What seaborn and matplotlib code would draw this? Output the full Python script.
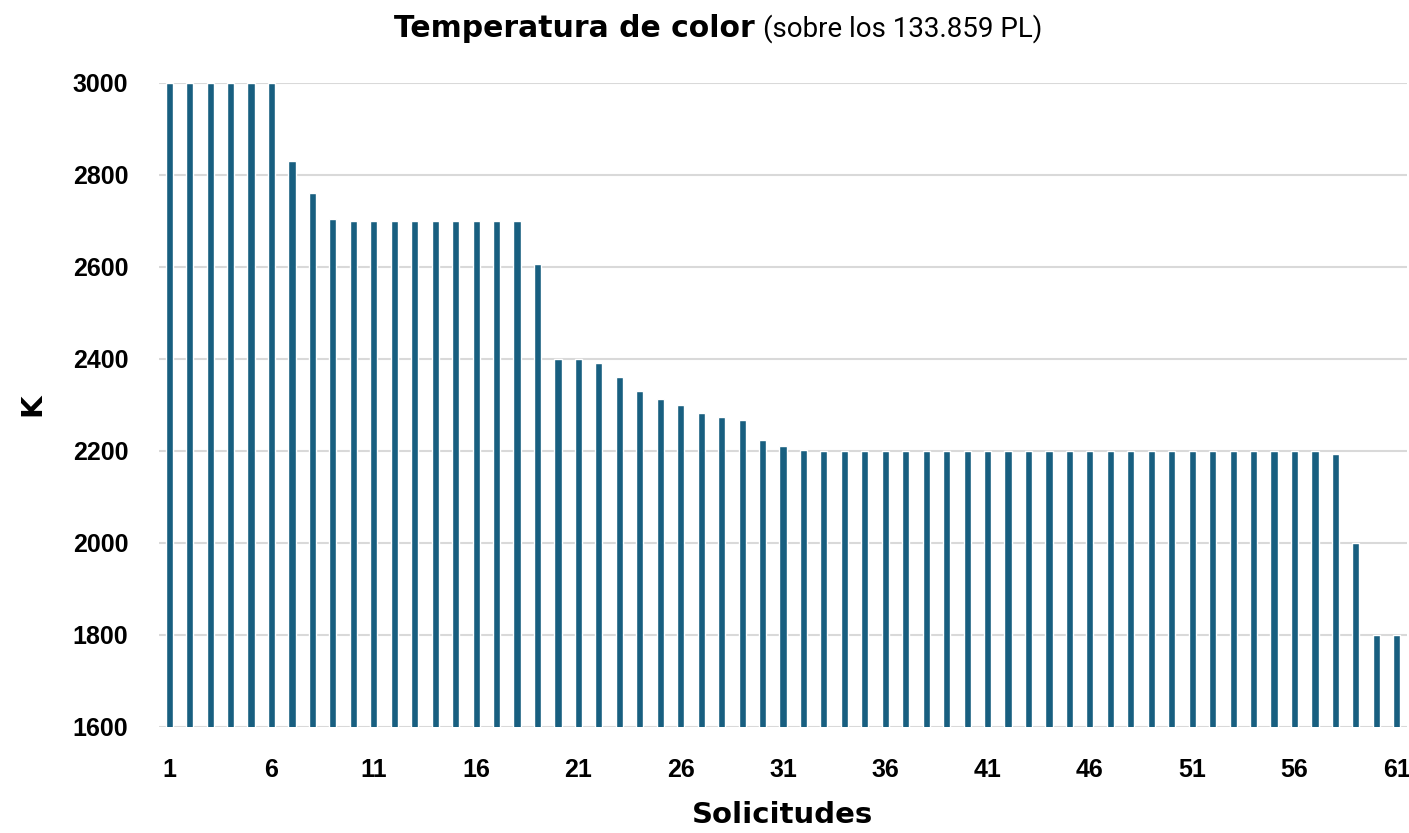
import numpy as np
import pandas as pd
import matplotlib.pyplot as plt
import seaborn as sns

sns.set_theme(style="white")
plt.rcParams["font.family"] = ["DejaVu Sans"]
plt.rcParams["text.color"] = "black"
plt.rcParams["axes.labelcolor"] = "black"
plt.rcParams["xtick.color"] = "black"
plt.rcParams["ytick.color"] = "black"

# Data (color temperature in K per request)
solicitudes = list(range(1, 62))
kelvin = [
    3000, 3000, 3000, 3000, 3000, 3000, 2830, 2760, 2705, 2700,
    2700, 2700, 2700, 2700, 2700, 2700, 2700, 2700, 2607, 2400,
    2400, 2392, 2361, 2331, 2314, 2300, 2282, 2273, 2267, 2225,
    2210, 2203, 2200, 2200, 2200, 2200, 2200, 2200, 2200, 2200,
    2200, 2200, 2200, 2200, 2200, 2200, 2200, 2200, 2200, 2200,
    2200, 2200, 2200, 2200, 2200, 2200, 2200, 2193, 2000, 1800,
    1800,
]
y_ticks = [1600, 1800, 2000, 2200, 2400, 2600, 2800, 3000]
x_tick_labels = [str(i) for i in range(1, 62, 5)]

df = pd.DataFrame({"Solicitudes": [str(s) for s in solicitudes], "K": kelvin})

fig = plt.figure(figsize=(14.09, 8.33), dpi=100)
ax = fig.add_axes([159 / 1409, 1 - 727 / 833, (1407 - 159) / 1409, (727 - 83) / 833])

sns.barplot(data=df, x="Solicitudes", y="K", color="#185F80", width=0.35,
            saturation=1, ax=ax, zorder=3)

tick_font = dict(fontsize=18, fontweight="bold", family=["Liberation Sans", "DejaVu Sans"])
ax.set_ylim(1600, 3000)
ax.set_xlim(-0.5, len(solicitudes) - 0.5)
ax.set_yticks(y_ticks)
ax.set_yticklabels([str(v) for v in y_ticks], **tick_font)
ax.set_xticks(list(range(0, 61, 5)))
ax.set_xticklabels(x_tick_labels, **tick_font)
ax.tick_params(axis="both", length=0)
ax.tick_params(axis="y", pad=22)
ax.tick_params(axis="x", pad=22)

ax.yaxis.grid(True, color="#D9D9D9", linewidth=1.5, zorder=0)
ax.set_axisbelow(True)
for side in ["top", "right", "left", "bottom"]:
    ax.spines[side].set_visible(False)

ax.set_xlabel("Solicitudes", fontsize=21, fontweight="bold", labelpad=14)
ax.set_ylabel("K", fontsize=21, fontweight="bold", labelpad=19)

fig.text(755 / 1409, 1 - 37 / 833, "Temperatura de color", ha="right", va="baseline",
         fontsize=21.5, fontweight="bold")
fig.text(763 / 1409, 1 - 37 / 833, "(sobre los 133.859 PL)", ha="left", va="baseline",
         fontsize=20, family=["Roboto", "DejaVu Sans"])

fig.savefig("out.png", dpi=100)
